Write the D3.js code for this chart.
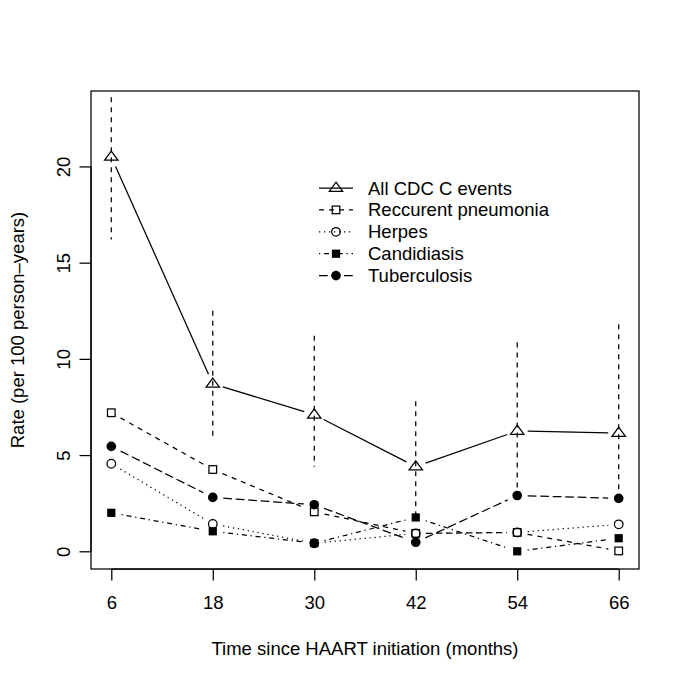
<!DOCTYPE html>
<html>
<head>
<meta charset="utf-8">
<script src="https://cdn.jsdelivr.net/npm/d3@7"></script>
<style>
  html, body { margin: 0; padding: 0; background: #fff; }
  text { font-family: "Liberation Sans", Arial, Helvetica, sans-serif; fill: #000; }
</style>
</head>
<body>
<svg id="chart" width="685" height="683"></svg>
<script>
// ---- Data ----
const months = [6, 18, 30, 42, 54, 66];
const xTicks = [6, 18, 30, 42, 54, 66];
const yTicks = [0, 5, 10, 15, 20];

const allCDC      = [20.5, 8.7, 7.1, 4.4, 6.25, 6.15];
const allCDCLower = [16.2, 5.85, 4.4, 1.9, 2.9, 2.8];
const allCDCUpper = [23.6, 12.5, 11.2, 7.8, 10.85, 11.8];
const pneumonia    = [7.2, 4.25, 2.05, 0.93, 0.98, 0.02];
const herpes       = [4.55, 1.42, 0.42, 0.93, 0.98, 1.4];
const candidiasis  = [2.0, 1.04, 0.42, 1.76, 0.0, 0.68];
const tuberculosis = [5.45, 2.8, 2.42, 0.47, 2.9, 2.75];

const seriesNames = ["All CDC C events", "Reccurent pneumonia", "Herpes", "Candidiasis", "Tuberculosis"];

const xLabel = "Time since HAART initiation (months)";
const yLabel = "Rate (per 100 person\u2013years)";

// ---- Layout ----
const svg = d3.select("#chart");
const box = { left: 91, right: 639, top: 91, bottom: 569 };
const fontSize = 18.5;

const xDomain = [6 - 0.04 * 60, 66 + 0.04 * 60];
const yDomain = [0 - 0.04 * 23, 23 + 0.04 * 23];
const x = d3.scaleLinear().domain(xDomain).range([box.left, box.right]);
const y = d3.scaleLinear().domain(yDomain).range([box.bottom, box.top]);

const lw = 1.25;
const dashes = {
  solid: null,
  dashed: "5,5",
  dotted: "1.25,3.75",
  dotdash: "1.25,3.75,5,3.75",
  longdash: "8.75,3.75"
};

const series = [
  { name: seriesNames[0], values: allCDC, lty: "solid", pch: "triangle" },
  { name: seriesNames[1], values: pneumonia, lty: "dashed", pch: "square" },
  { name: seriesNames[2], values: herpes, lty: "dotted", pch: "circle" },
  { name: seriesNames[3], values: candidiasis, lty: "dotdash", pch: "fsquare" },
  { name: seriesNames[4], values: tuberculosis, lty: "longdash", pch: "fcircle" }
];

const R = 4.3;
function drawPoint(g, cx, cy, pch) {
  if (pch === "triangle") {
    const xc = 1.5551 * R, r = 1.3468 * R, yc = 0.7776 * R;
    g.append("path")
      .attr("d", `M${cx},${cy - r}L${cx + xc},${cy + yc}L${cx - xc},${cy + yc}Z`)
      .attr("fill", "none").attr("stroke", "#000").attr("stroke-width", lw);
  } else if (pch === "square") {
    const h = 0.886 * R;
    g.append("rect").attr("x", cx - h).attr("y", cy - h).attr("width", 2 * h).attr("height", 2 * h)
      .attr("fill", "none").attr("stroke", "#000").attr("stroke-width", lw);
  } else if (pch === "circle") {
    g.append("circle").attr("cx", cx).attr("cy", cy).attr("r", R)
      .attr("fill", "none").attr("stroke", "#000").attr("stroke-width", lw);
  } else if (pch === "fsquare") {
    const h = 0.886 * R + 0.3;
    g.append("rect").attr("x", cx - h).attr("y", cy - h).attr("width", 2 * h).attr("height", 2 * h)
      .attr("fill", "#000").attr("stroke", "none");
  } else if (pch === "fcircle") {
    g.append("circle").attr("cx", cx).attr("cy", cy).attr("r", R + 0.5)
      .attr("fill", "#000").attr("stroke", "none");
  }
}

// ---- Error bars (dashed) ----
const eb = svg.append("g");
months.forEach((m, i) => {
  eb.append("line")
    .attr("x1", x(m)).attr("x2", x(m))
    .attr("y1", y(allCDCUpper[i])).attr("y2", y(allCDCLower[i]))
    .attr("stroke", "#000").attr("stroke-width", lw)
    .attr("stroke-dasharray", dashes.dashed);
});

// ---- Series lines (type "b": gaps around points) ----
const gap = 10.5;
const plotG = svg.append("g");
series.forEach(s => {
  const pts = months.map((m, i) => [x(m), y(s.values[i])]);
  for (let i = 0; i < pts.length - 1; i++) {
    const [x0, y0] = pts[i], [x1, y1] = pts[i + 1];
    const d = Math.hypot(x1 - x0, y1 - y0);
    if (d <= 2 * gap) continue;
    const ux = (x1 - x0) / d, uy = (y1 - y0) / d;
    const ln = plotG.append("line")
      .attr("x1", x0 + ux * gap).attr("y1", y0 + uy * gap)
      .attr("x2", x1 - ux * gap).attr("y2", y1 - uy * gap)
      .attr("stroke", "#000").attr("stroke-width", lw);
    if (dashes[s.lty]) ln.attr("stroke-dasharray", dashes[s.lty]);
  }
  pts.forEach(p => drawPoint(plotG, p[0], p[1], s.pch));
});

// ---- Box ----
svg.append("rect")
  .attr("x", box.left).attr("y", box.top)
  .attr("width", box.right - box.left).attr("height", box.bottom - box.top)
  .attr("fill", "none").attr("stroke", "#000").attr("stroke-width", lw);

// ---- Axes ----
const tickLen = 11.5;
const xAxisG = svg.append("g").attr("transform", `translate(0,${box.bottom})`);
xAxisG.call(d3.axisBottom(x).tickValues(xTicks).tickSize(tickLen).tickPadding(0).tickFormat(d3.format("d")));
xAxisG.select(".domain").attr("d", `M${x(xTicks[0])},0H${x(xTicks[xTicks.length - 1])}`)
  .attr("stroke", "#000").attr("stroke-width", lw);
xAxisG.selectAll(".tick line").attr("stroke", "#000").attr("stroke-width", lw);
xAxisG.selectAll(".tick text")
  .attr("y", 603 - box.bottom).attr("dy", "0.35em")
  .style("font-size", fontSize + "px")
  .style("font-family", '"Liberation Sans", Arial, sans-serif')
  .attr("fill", "#000");

const yAxisG = svg.append("g").attr("transform", `translate(${box.left},0)`);
yAxisG.call(d3.axisLeft(y).tickValues(yTicks).tickSize(tickLen).tickPadding(0).tickFormat(d3.format("d")));
yAxisG.select(".domain").attr("d", `M0,${y(yTicks[0])}V${y(yTicks[yTicks.length - 1])}`)
  .attr("stroke", "#000").attr("stroke-width", lw);
yAxisG.selectAll(".tick line").attr("stroke", "#000").attr("stroke-width", lw);
yAxisG.selectAll(".tick text")
  .attr("x", null).attr("dy", null)
  .attr("transform", `translate(${63 - box.left},0) rotate(-90)`)
  .attr("text-anchor", "middle").attr("dominant-baseline", "central")
  .style("font-size", fontSize + "px")
  .style("font-family", '"Liberation Sans", Arial, sans-serif')
  .attr("fill", "#000");

// ---- Axis titles ----
svg.append("text")
  .attr("x", (box.left + box.right) / 2).attr("y", 648)
  .attr("text-anchor", "middle").attr("dominant-baseline", "central")
  .style("font-size", fontSize + "px")
  .text(xLabel);

svg.append("text")
  .attr("transform", `translate(17,${(box.top + box.bottom) / 2}) rotate(-90)`)
  .attr("text-anchor", "middle").attr("dominant-baseline", "central")
  .style("font-size", fontSize + "px")
  .text(yLabel);

// ---- Legend ----
const leg = svg.append("g");
const legY0 = 188, legDy = 21.9;
series.forEach((s, i) => {
  const cy = legY0 + i * legDy;
  const ln = leg.append("line")
    .attr("x1", 319).attr("x2", 353).attr("y1", cy).attr("y2", cy)
    .attr("stroke", "#000").attr("stroke-width", lw);
  if (dashes[s.lty]) ln.attr("stroke-dasharray", dashes[s.lty]);
  drawPoint(leg, 336, cy, s.pch);
  leg.append("text")
    .attr("x", 368).attr("y", cy)
    .attr("dominant-baseline", "central")
    .style("font-size", fontSize + "px")
    .text(s.name);
});
</script>
</body>
</html>
